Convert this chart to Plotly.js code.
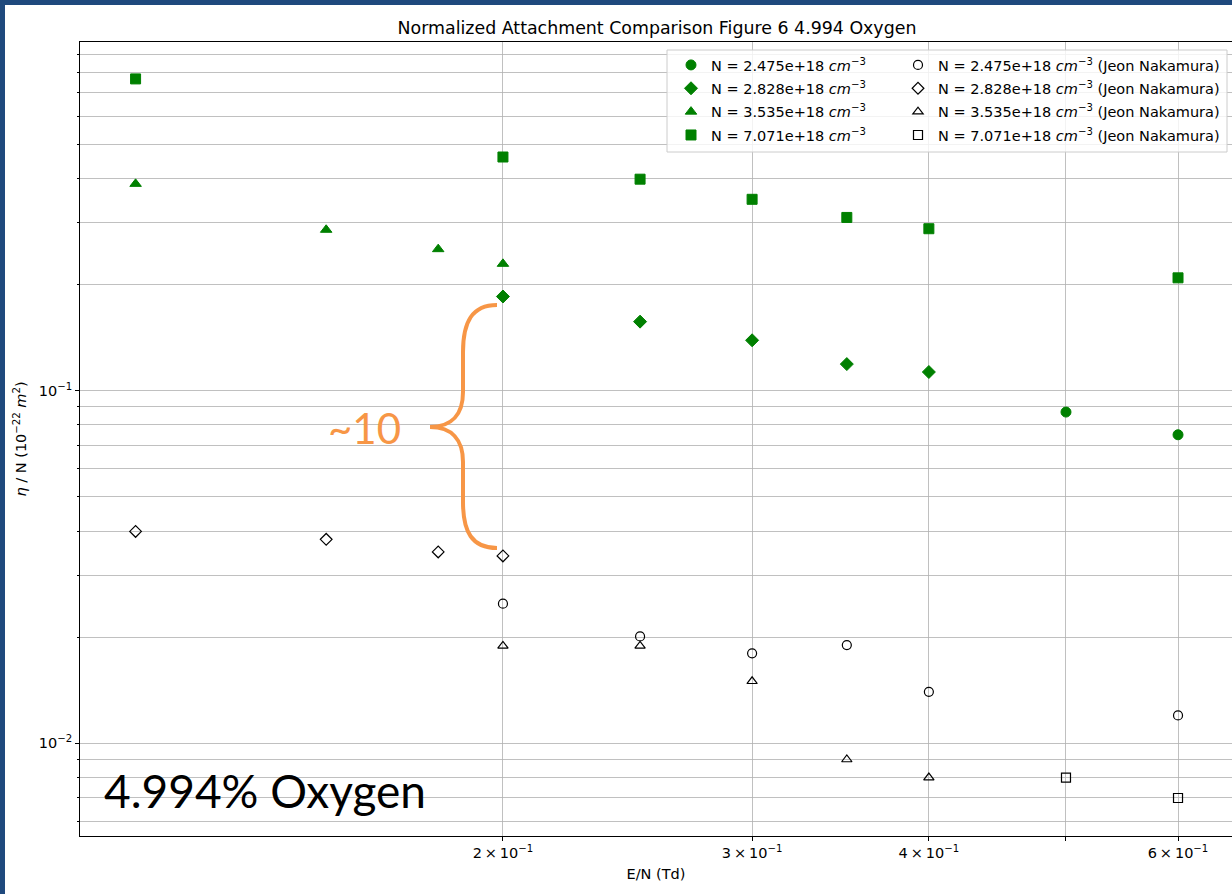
<!DOCTYPE html>
<html><head><meta charset="utf-8">
<script src="https://cdn.plot.ly/plotly-3.0.1.min.js"></script>
<style>html,body{margin:0;padding:0;background:#fff}#chart{width:1232px;height:894px}</style>
</head><body><div id="chart"></div>
<script>
// ---- data ----
const seriesNames = [
  'N = 2.475e+18 <i>cm</i><sup>−3</sup>',
  'N = 2.828e+18 <i>cm</i><sup>−3</sup>',
  'N = 3.535e+18 <i>cm</i><sup>−3</sup>',
  'N = 7.071e+18 <i>cm</i><sup>−3</sup>'
];
const jeonSuffix = ' (Jeon Nakamura)';

const xCircle = [0.5, 0.6];
const yCircle = [0.087, 0.075];
const xDiamond = [0.2, 0.25, 0.3, 0.35, 0.4];
const yDiamond = [0.185, 0.157, 0.139, 0.119, 0.113];
const xTriangle = [0.11, 0.15, 0.18, 0.2];
const yTriangle = [0.386, 0.286, 0.252, 0.229];
const xSquare = [0.11, 0.2, 0.25, 0.3, 0.35, 0.4, 0.6];
const ySquare = [0.766, 0.460, 0.398, 0.349, 0.310, 0.288, 0.209];

const xJeonCircle = [0.2, 0.25, 0.3, 0.35, 0.4, 0.6];
const yJeonCircle = [0.0249, 0.0201, 0.0180, 0.0190, 0.0140, 0.0120];
const xJeonDiamond = [0.11, 0.15, 0.18, 0.2];
const yJeonDiamond = [0.0399, 0.0379, 0.0349, 0.0340];
const xJeonTriangle = [0.2, 0.25, 0.3, 0.35, 0.4];
const yJeonTriangle = [0.0189, 0.0189, 0.0150, 0.0090, 0.0080];
const xJeonSquare = [0.5, 0.6];
const yJeonSquare = [0.0080, 0.0070];

const xTickVals = [0.2, 0.3, 0.4, 0.5, 0.6];
const xTickText = ['2\u2009×\u200910<sup>−1</sup>', '3\u2009×\u200910<sup>−1</sup>', '4\u2009×\u200910<sup>−1</sup>', '', '6\u2009×\u200910<sup>−1</sup>'];
const yTickVals = [0.01, 0.1];
const yTickText = ['10<sup>−2</sup>', '10<sup>−1</sup>'];
const yMinorVals = [0.006, 0.007, 0.008, 0.009, 0.02, 0.03, 0.04, 0.05, 0.06, 0.07, 0.08, 0.09,
                    0.2, 0.3, 0.4, 0.5, 0.6, 0.7, 0.8, 0.9];

// ---- layout helpers ----
const W = 1232, H = 894, ML = 80, MR = 0, MT = 42, MB = 58;
const PW = W - ML - MR, PH = H - MT - MB;
const px = x => (x - ML) / PW;
const py = y => (H - MB - y) / PH;

const GREEN = '#008000';
const ORANGE = '#F79646';
const FONT = 'DejaVu Sans, sans-serif';
const FS = 14.5;

function filled(x, y, name, symbol, size, g) {
  return {x, y, name, type: 'scatter', mode: 'markers', legend: 'legend', legendgroup: 'f' + g,
    marker: {symbol, size, color: GREEN, line: {color: GREEN, width: 1}}};
}
function open(x, y, name, symbol, size, g) {
  return {x, y, name: name + jeonSuffix, type: 'scatter', mode: 'markers', legend: 'legend2', legendgroup: 'o' + g,
    marker: {symbol: symbol + '-open', size, color: '#000', line: {color: '#000', width: 1.2}}};
}

const data = [
  filled(xCircle, yCircle, seriesNames[0], 'circle', 10, 0),
  filled(xDiamond, yDiamond, seriesNames[1], 'diamond', 10, 1),
  filled(xTriangle, yTriangle, seriesNames[2], 'triangle-up', 10, 2),
  filled(xSquare, ySquare, seriesNames[3], 'square', 10, 3),
  open(xJeonCircle, yJeonCircle, seriesNames[0], 'circle', 9, 0),
  open(xJeonDiamond, yJeonDiamond, seriesNames[1], 'diamond', 9, 1),
  open(xJeonTriangle, yJeonTriangle, seriesNames[2], 'triangle-up', 9, 2),
  open(xJeonSquare, yJeonSquare, seriesNames[3], 'square', 9, 3)
];

const brace = [
  'M', px(497), py(305),
  'C', px(472), py(305), px(463), py(322), px(463), py(352),
  'L', px(463), py(392),
  'C', px(463), py(414), px(452), py(427), px(430), py(427),
  'C', px(452), py(427), px(463), py(440), px(463), py(462),
  'L', px(463), py(502),
  'C', px(463), py(532), px(472), py(548), px(497), py(548)
].join(' ');

const legendBase = {xanchor: 'left', yanchor: 'top', orientation: 'v',
  bgcolor: 'rgba(0,0,0,0)', borderwidth: 0, traceorder: 'grouped', tracegroupgap: 1.5,
  font: {family: FONT, size: FS, color: '#000'}};

const layout = {
  width: W, height: H,
  margin: {l: ML, r: MR, t: MT, b: MB, pad: 0},
  paper_bgcolor: '#fff', plot_bgcolor: '#fff',
  font: {family: FONT, size: FS, color: '#000'},
  title: {text: 'Normalized Attachment Comparison Figure 6 4.994 Oxygen',
    font: {family: FONT, size: 17.4, color: '#000'},
    xref: 'paper', x: px(657), xanchor: 'center', yref: 'container', y: 1 - 28 / H, yanchor: 'middle'},
  showlegend: true,
  legend: Object.assign({x: px(671), y: py(49)}, legendBase),
  legend2: Object.assign({x: px(898), y: py(49)}, legendBase),
  xaxis: {type: 'log', range: [-0.9979, -0.1837],
    tickmode: 'array', tickvals: xTickVals, ticktext: xTickText,
    ticks: 'outside', ticklen: 4, tickcolor: '#000', tickwidth: 1,
    showgrid: true, gridcolor: '#b0b0b0', gridwidth: 0.8,
    showline: true, linecolor: '#000', linewidth: 1, mirror: true,
    zeroline: false, tickfont: {family: FONT, size: FS, color: '#000'},
    title: {text: 'E/N (Td)', font: {family: FONT, size: FS, color: '#000'}, standoff: 8}},
  yaxis: {type: 'log', range: [-2.2627, -0.0111],
    tickmode: 'array', tickvals: yTickVals, ticktext: yTickText,
    ticks: 'outside', ticklen: 4, tickcolor: '#000', tickwidth: 1,
    showgrid: true, gridcolor: '#b0b0b0', gridwidth: 0.8,
    minor: {tickmode: 'array', tickvals: yMinorVals, ticks: 'outside', ticklen: 2,
      tickcolor: '#000', showgrid: true, gridcolor: '#b0b0b0', gridwidth: 0.8},
    showline: true, linecolor: '#000', linewidth: 1, mirror: false,
    zeroline: false, tickfont: {family: FONT, size: FS, color: '#000'},
    title: {text: '<i>η</i> / N (10<sup>−22</sup> <i>m</i><sup>2</sup>)',
      font: {family: FONT, size: FS, color: '#000'}, standoff: 8}},
  shapes: [
    {type: 'rect', xref: 'paper', yref: 'paper', x0: px(667), x1: px(1227), y0: py(50), y1: py(152),
      fillcolor: 'rgba(255,255,255,0.8)', line: {color: '#cccccc', width: 1}, layer: 'above'},
    {type: 'path', xref: 'paper', yref: 'paper', path: brace,
      line: {color: ORANGE, width: 4}, layer: 'above'},
    {type: 'rect', xref: 'paper', yref: 'paper', x0: px(0), x1: px(5), y0: py(0), y1: py(H),
      fillcolor: '#1F497D', line: {width: 0}, layer: 'above'},
    {type: 'rect', xref: 'paper', yref: 'paper', x0: px(0), x1: px(W), y0: py(0), y1: py(5),
      fillcolor: '#1F497D', line: {width: 0}, layer: 'above'}
  ],
  annotations: [
    {xref: 'paper', yref: 'paper', x: px(102), y: py(790), xanchor: 'left', yanchor: 'middle',
      text: '4.994% Oxygen', showarrow: false,
      font: {family: 'Lato, sans-serif', size: 46, color: '#000'}},
    {xref: 'paper', yref: 'paper', x: px(364), y: py(428), xanchor: 'center', yanchor: 'middle',
      text: '~10', showarrow: false,
      font: {family: 'Lato, sans-serif', size: 42, color: ORANGE}}
  ]
};

Plotly.newPlot('chart', data, layout, {displayModeBar: false, staticPlot: true});
</script>
</body></html>
